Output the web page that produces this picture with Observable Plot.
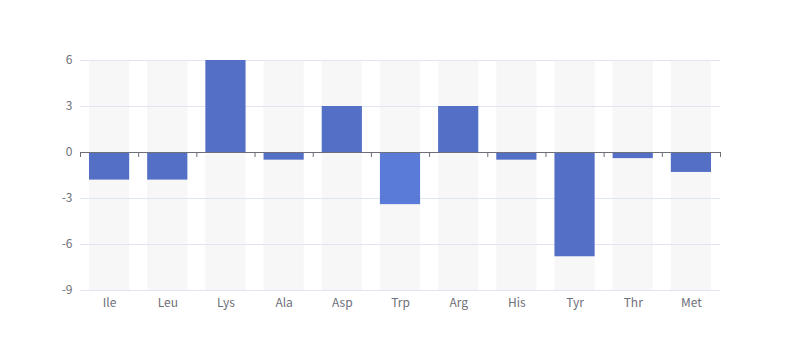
<!DOCTYPE html>
<html>
<head>
<meta charset="utf-8">
<script src="https://cdn.jsdelivr.net/npm/d3@7"></script>
<script src="https://cdn.jsdelivr.net/npm/@observablehq/plot@0.6"></script>
<style>
  html, body { margin: 0; padding: 0; background: #fff; }
  #chart svg { display: block; font-family: "Noto Sans CJK SC", "Noto Sans", sans-serif; }
</style>
</head>
<body>
<div id="chart"></div>
<script>
const categories = ["Ile", "Leu", "Lys", "Ala", "Asp", "Trp", "Arg", "His", "Tyr", "Thr", "Met"];
const values = [-1.8, -1.8, 6, -0.5, 3, -3.4, 3, -0.5, -6.8, -0.4, -1.3];
const highlighted = ["Trp"];
const yTicks = [-9, -6, -3, 0, 3, 6];

const yMin = d3.min(yTicks), yMax = d3.max(yTicks);
const data = categories.map((c, i) => ({ c, i, v: values[i] }));
const boundaries = d3.range(categories.length + 1);

const chart = Plot.plot({
  width: 800,
  height: 360,
  marginLeft: 80,
  marginRight: 80,
  marginTop: 60,
  marginBottom: 70,
  style: { fontSize: "12px", color: "#6e7079", background: "#fff", fontFamily: "'Noto Sans CJK SC', 'Noto Sans', sans-serif" },
  x: { type: "linear", domain: [0, categories.length], axis: null },
  y: { domain: [yMin, yMax], axis: null },
  marks: [
    Plot.rectY(data, { x1: "i", x2: d => d.i + 1, y1: yMin, y2: yMax, fill: "#f7f7f7", insetLeft: 9, insetRight: 9 }),
    Plot.ruleY(yTicks.filter(t => t !== 0), { stroke: "#e0e6f1" }),
    Plot.rectY(data, {
      x1: "i", x2: d => d.i + 1, y1: 0, y2: "v",
      fill: d => highlighted.includes(d.c) ? "#5b7bd9" : "#5470c6",
      insetLeft: 9, insetRight: 9
    }),
    Plot.ruleY([0], { stroke: "#6e7079" }),
    Plot.ruleX(boundaries, { x: d => d, y1: 0, y2: 0, insetBottom: -5, stroke: "#6e7079" }),
    Plot.axisY({ ticks: yTicks, tickFormat: d => String(d), tickSize: 0, tickPadding: 8, label: null, fill: "#6e7079", fontSize: 12 }),
    Plot.axisX({
      ticks: categories.map((c, i) => i + 0.5),
      tickFormat: t => categories[Math.floor(t)],
      tickSize: 0, tickPadding: 8, label: null, fill: "#6e7079", fontSize: 12
    })
  ]
});
document.getElementById("chart").appendChild(chart);
</script>
</body>
</html>
